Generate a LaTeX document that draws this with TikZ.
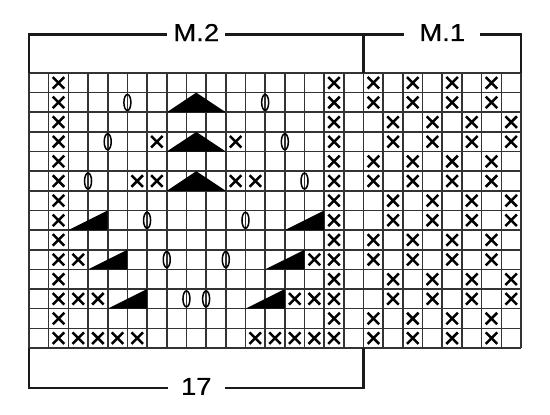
\documentclass[tikz,border=0pt]{standalone}
\usepackage{fontspec}
\setmainfont{Liberation Sans}[FakeStretch=1.12, FakeBold=0.6]
\usetikzlibrary{shapes.misc,shapes.geometric}

\tikzset{
  gridline/.style={line width=1.6pt, draw=black!80},
  bracket/.style={line width=2.2pt, draw=black!90},
  xst/.style={cross out, draw, line width=2.5pt, minimum size=9pt, inner sep=0pt},
  yo/.style={ellipse, draw, line width=1.5pt, minimum width=7pt, minimum height=16pt, inner sep=0pt},
  dec/.style={fill=black},
  chartlabel/.style={font=\fontsize{24.5}{28}\selectfont, inner ysep=0pt}
}

\begin{document}
\begin{tikzpicture}[x=1pt, y=-1pt]
    \useasboundingbox (0,0) rectangle (550,415);
    \begin{scope}[xshift=29pt, yshift=-73pt, x=19.68pt, y=-19.64pt]
    % Grid
    \foreach \i in {0,...,25} \draw[gridline] (\i,0) -- (\i,14);
    \foreach \j in {0,...,14} \draw[gridline] (0,\j) -- (25,\j);

    % Double decreases
    \foreach \r in {2,4,6}
        \fill[dec] (7,\r) -- (8.5,\r-1) -- (10,\r) -- cycle;

    % Slanted decreases
    \foreach \a/\r in {2/8, 13/8, 3/10, 12/10, 4/12, 11/12}
        \fill[dec] (\a,\r) -- (\a+2,\r-1) -- (\a+2,\r) -- cycle;

    % M.2 edge stitches
    \foreach \r in {1,...,14} {
        \node[xst] (x-2-\r) at (1.5,\r-0.5) {};
        \node[xst] (x-16-\r) at (15.5,\r-0.5) {};
    }

    % M.2 inner stitches
    \foreach \c/\r in {7/4, 11/4, 6/6, 7/6, 11/6, 12/6, 3/10, 15/10, 3/12, 4/12, 14/12, 15/12,
                       3/14, 4/14, 5/14, 6/14, 12/14, 13/14, 14/14, 15/14}
        \node[xst] (x-\c-\r) at (\c-0.5,\r-0.5) {};

    % Yarn overs, sitting on the lines
    \foreach \b/\r in {5/2, 12/2, 4/4, 13/4, 3/6, 14/6, 6/8, 11/8, 7/10, 10/10, 8/12, 9/12}
        \node[yo] (o-\b-\r) at (\b,\r-0.5) {};

    % M.1
    \foreach \r in {1,2,5,6,9,10,13,14}
        \foreach \c in {18,20,22,24}
            \node[xst] (x-\c-\r) at (\c-0.5,\r-0.5) {};
    \foreach \r in {3,4,7,8,11,12}
        \foreach \c in {19,21,23,25}
            \node[xst] (x-\c-\r) at (\c-0.5,\r-0.5) {};

    % Brackets
    \coordinate (g-nw) at (0,0);
    \coordinate (g-n17) at (17,0);
    \coordinate (g-ne) at (25,0);
    \coordinate (g-sw) at (0,14);
    \coordinate (g-s17) at (17,14);
    \coordinate (tl) at (0,-1.96);
    \coordinate (tm) at (17,-1.96);
    \coordinate (tr) at (25,-1.96);
    \coordinate (bl) at (0,16.04);
    \coordinate (bm) at (17,16.04);

    \node[chartlabel, inner xsep=6pt] (m2) at (8.5,-2.06) {M.2};
    \node[chartlabel, inner xsep=15pt] (m1) at (21,-2.06) {M.1};
    \node[chartlabel, inner xsep=13pt] (n17) at (8.5,15.96) {17};

    \draw[bracket] (g-nw) -- (tl) -- (tl -| m2.west);
    \draw[bracket] (tm -| m2.east) -- (tm) -- (g-n17);
    \draw[bracket] (tm) -- (tm -| m1.west);
    \draw[bracket] (tr -| m1.east) -- (tr) -- (g-ne);
    \draw[bracket] (g-sw) -- (bl) -- (bl -| n17.west);
    \draw[bracket] (bm -| n17.east) -- (bm) -- (g-s17);
    \end{scope}
\end{tikzpicture}
\end{document}
